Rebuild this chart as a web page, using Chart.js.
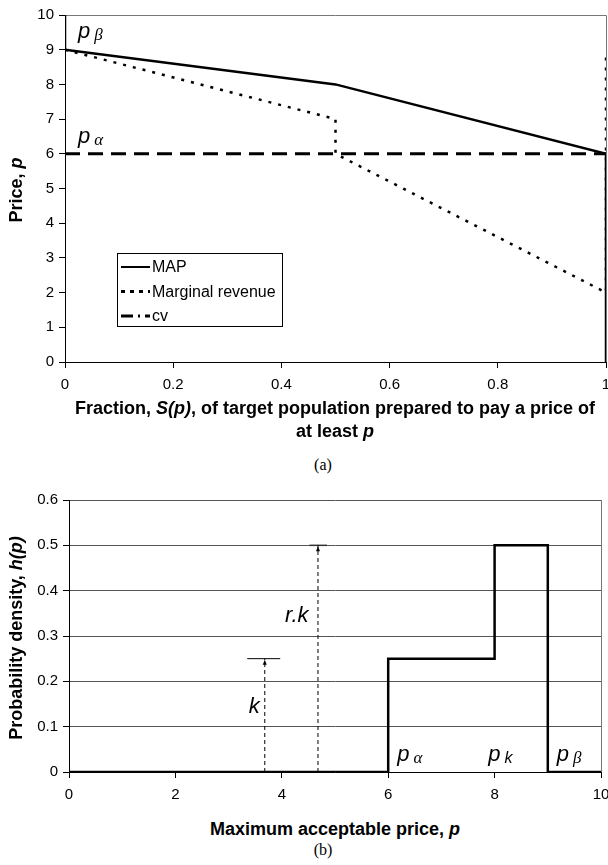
<!DOCTYPE html>
<html><head><meta charset="utf-8">
<script src="https://cdn.jsdelivr.net/npm/chart.js@4.4.1/dist/chart.umd.min.js"></script>
<style>
html,body{margin:0;padding:0;background:#fff;}
body{width:608px;height:865px;position:relative;overflow:hidden;font-family:"Liberation Sans",Arial,sans-serif;}
canvas{position:absolute;left:0;}
#c1{top:0}
#c2{top:480px}
.t{position:absolute;font-weight:bold;font-size:18px;color:#000;text-align:center;white-space:nowrap;line-height:23px;}
.cap{position:absolute;font-family:"Liberation Serif",serif;font-size:16px;transform:translateX(-50%);line-height:18px;}
.yt{transform:translate(-50%,-50%) rotate(-90deg);}
</style></head>
<body>
<canvas id="c1" width="608" height="400"></canvas>
<canvas id="c2" width="608" height="330"></canvas>
<div class="t yt" style="left:16px;top:190px;">Price, <i>p</i></div>
<div class="t" style="left:335px;top:397px;transform:translateX(-50%);">Fraction, <i>S(p)</i>, of target population prepared to pay a price of<br>at least <i>p</i></div>
<div class="cap" style="left:323px;top:456px;">(a)</div>
<div class="t yt" style="left:16px;top:638px;">Probability density, <i>h(p)</i></div>
<div class="t" style="left:335px;top:818px;transform:translateX(-50%);">Maximum acceptable price, <i>p</i></div>
<div class="cap" style="left:323px;top:841px;">(b)</div>
<script>
// ---- Chart (a) data ----
const seriesNames = ['MAP', 'Marginal revenue', 'cv'];
const shareMAP = [0, 0, 0.5, 1, 1];
const priceMAP = [10, 9, 8, 6, 0];
const shareMR = [0, 0.5, 0.5, 1, 1];
const priceMR = [9, 7, 6, 2, 8.8];
const shareCV = [0, 1];
const priceCV = [6, 6];
const shareTicks = [0, 0.2, 0.4, 0.6, 0.8, 1];
const priceTicks = [0, 1, 2, 3, 4, 5, 6, 7, 8, 9, 10];

// ---- Chart (b) data ----
const priceB = [0, 6, 6, 8, 8, 9, 9, 10];
const densityB = [0, 0, 0.25, 0.25, 0.5, 0.5, 0, 0];
const kArrowX = [3.68, 3.68];
const kArrowY = [0, 0.25];
const kCapX = [3.35, 3.97];
const kCapY = [0.25, 0.25];
const rkArrowX = [4.68, 4.68];
const rkArrowY = [0, 0.5];
const rkCapX = [4.52, 4.85];
const rkCapY = [0.5, 0.5];
const priceTicksB = [0, 2, 4, 6, 8, 10];
const densityTicks = [0, 0.1, 0.2, 0.3, 0.4, 0.5, 0.6];

const pts = (xs, ys) => xs.map((x, i) => ({x: x, y: ys[i]}));
const FONT = 'Liberation Sans';
const tickFont = {family: FONT, size: 15};

function drawSub(ctx, x, y, main, sub, greek) {
  ctx.save();
  ctx.fillStyle = '#000';
  ctx.textBaseline = 'alphabetic';
  ctx.textAlign = 'left';
  ctx.font = 'italic 22px ' + FONT;
  ctx.fillText(main, x, y);
  const w = ctx.measureText(main).width;
  ctx.font = greek ? 'italic 17px "Liberation Serif"' : 'italic 16px ' + FONT;
  ctx.fillText(sub, x + w + 4, y + 2);
  ctx.restore();
}

const framePluginA = {
  id: 'frameA',
  beforeDatasetsDraw(chart) {
    const {ctx, chartArea: a} = chart;
    ctx.save();
    ctx.strokeStyle = '#777';
    ctx.lineWidth = 1;
    ctx.beginPath();
    ctx.moveTo(a.left, a.top + 0.5);
    ctx.lineTo(a.right + 0.5, a.top + 0.5);
    ctx.lineTo(a.right + 0.5, a.bottom);
    ctx.stroke();
    ctx.restore();
  },
  afterDatasetsDraw(chart) {
    const {ctx, chartArea: a, scales: {x, y}} = chart;
    ctx.save();
    // legend
    const bx = a.left + 52, by = a.top + 238, bw = 165, bh = 73;
    ctx.fillStyle = '#fff';
    ctx.fillRect(bx, by, bw, bh);
    ctx.strokeStyle = '#000';
    ctx.lineWidth = 1;
    ctx.strokeRect(bx + 0.5, by + 0.5, bw, bh);
    chart.data.datasets.forEach((ds, i) => {
      const ly = by + 14 + i * 24.5;
      ctx.beginPath();
      ctx.setLineDash(i === 0 ? [] : (i === 1 ? [4, 5] : [12, 5, 2, 5]));
      ctx.lineWidth = i === 0 ? 2 : 3;
      ctx.strokeStyle = '#000';
      ctx.moveTo(bx + 4, ly);
      ctx.lineTo(bx + 33, ly);
      ctx.stroke();
      ctx.setLineDash([]);
      ctx.fillStyle = '#000';
      ctx.font = '16px ' + FONT;
      ctx.textBaseline = 'middle';
      ctx.fillText(ds.label, bx + 35, ly + 1);
    });
    // annotations
    drawSub(ctx, x.getPixelForValue(0.024), y.getPixelForValue(9.34), 'p', 'β', true);
    drawSub(ctx, x.getPixelForValue(0.024), y.getPixelForValue(6.32), 'p', 'α', true);
    ctx.restore();
  }
};

const framePluginB = {
  id: 'frameB',
  beforeDatasetsDraw(chart) {
    const {ctx, chartArea: a} = chart;
    ctx.save();
    ctx.strokeStyle = '#777';
    ctx.lineWidth = 1;
    ctx.beginPath();
    ctx.moveTo(a.right + 0.5, a.top);
    ctx.lineTo(a.right + 0.5, a.bottom);
    ctx.stroke();
    ctx.restore();
  },
  afterDatasetsDraw(chart) {
    const {ctx, scales: {x, y}} = chart;
    ctx.save();
    // arrowheads
    ctx.fillStyle = '#000';
    [[kArrowX[1], kArrowY[1]], [rkArrowX[1], rkArrowY[1]]].forEach(([vx, vy]) => {
      const px = x.getPixelForValue(vx), py = y.getPixelForValue(vy);
      ctx.beginPath();
      ctx.moveTo(px, py + 1);
      ctx.lineTo(px - 2, py + 6);
      ctx.lineTo(px + 2, py + 6);
      ctx.closePath();
      ctx.fill();
    });
    ctx.font = 'italic 22px ' + FONT;
    ctx.textBaseline = 'alphabetic';
    ctx.fillText('k', x.getPixelForValue(3.38), y.getPixelForValue(0.13));
    ctx.fillText('r.k', x.getPixelForValue(4.06), y.getPixelForValue(0.33));
    drawSub(ctx, x.getPixelForValue(6.17), y.getPixelForValue(0.025), 'p', 'α', true);
    drawSub(ctx, x.getPixelForValue(7.88), y.getPixelForValue(0.025), 'p', 'k', false);
    drawSub(ctx, x.getPixelForValue(9.17), y.getPixelForValue(0.025), 'p', 'β', true);
    ctx.restore();
  }
};

function linearAxis(min, max, tickVals, opts) {
  return Object.assign({
    type: 'linear', min: min, max: max,
    afterBuildTicks: s => { s.ticks = tickVals.map(v => ({value: v})); },
    ticks: {color: '#000', font: tickFont, padding: 5, maxRotation: 0, autoSkip: false, callback: v => String(v)},
    grid: {drawOnChartArea: false, drawTicks: true, tickLength: 6, color: '#000'},
    border: {color: '#000', width: 1}
  }, opts);
}

const xTicksOpt = {color: '#000', font: tickFont, padding: 8, maxRotation: 0, autoSkip: false, callback: v => String(v)};

new Chart(document.getElementById('c1'), {
  type: 'scatter',
  data: {
    datasets: [
      {label: seriesNames[0], data: pts(shareMAP, priceMAP), showLine: true, borderColor: '#000', borderWidth: 2.5, pointRadius: 0, fill: false},
      {label: seriesNames[1], data: pts(shareMR, priceMR), showLine: true, borderColor: '#000', borderWidth: 2.5, borderDash: [3, 7], pointRadius: 0, fill: false},
      {label: seriesNames[2], data: pts(shareCV, priceCV), showLine: true, borderColor: '#000', borderWidth: 3, borderDash: [15, 8], pointRadius: 0, fill: false}
    ]
  },
  options: {
    responsive: false, animation: false,
    layout: {padding: {top: 15, right: 2, left: 0, bottom: 0}},
    plugins: {legend: {display: false}, tooltip: {enabled: false}},
    scales: {
      x: linearAxis(0, 1, shareTicks, {ticks: xTicksOpt, afterFit: s => { s.height = 38; s.paddingLeft = 0; s.paddingRight = 0; }}),
      y: linearAxis(0, 10, priceTicks, {afterFit: s => { s.width = 65; }})
    }
  },
  plugins: [framePluginA]
});

new Chart(document.getElementById('c2'), {
  type: 'scatter',
  data: {
    datasets: [
      {label: 'h(p)', data: pts(priceB, densityB), showLine: true, borderColor: '#000', borderWidth: 2.5, pointRadius: 0, fill: false},
      {label: 'k', data: pts(kArrowX, kArrowY), showLine: true, borderColor: '#000', borderWidth: 1, borderDash: [4, 3], pointRadius: 0},
      {label: 'k cap', data: pts(kCapX, kCapY), showLine: true, borderColor: '#000', borderWidth: 1, pointRadius: 0},
      {label: 'r.k', data: pts(rkArrowX, rkArrowY), showLine: true, borderColor: '#000', borderWidth: 1, borderDash: [4, 3], pointRadius: 0},
      {label: 'r.k cap', data: pts(rkCapX, rkCapY), showLine: true, borderColor: '#333', borderWidth: 1.5, pointRadius: 0}
    ]
  },
  options: {
    responsive: false, animation: false,
    layout: {padding: {top: 20, right: 7, left: 0, bottom: 0}},
    plugins: {legend: {display: false}, tooltip: {enabled: false}},
    scales: {
      x: linearAxis(0, 10, priceTicksB, {ticks: xTicksOpt, afterFit: s => { s.height = 38; s.paddingLeft = 0; s.paddingRight = 0; }}),
      y: linearAxis(0, 0.6, densityTicks, {
        grid: {drawOnChartArea: true, drawTicks: true, tickLength: 6, color: '#555', tickColor: '#000'},
        afterFit: s => { s.width = 69; }
      })
    }
  },
  plugins: [framePluginB]
});
</script>
</body></html>
